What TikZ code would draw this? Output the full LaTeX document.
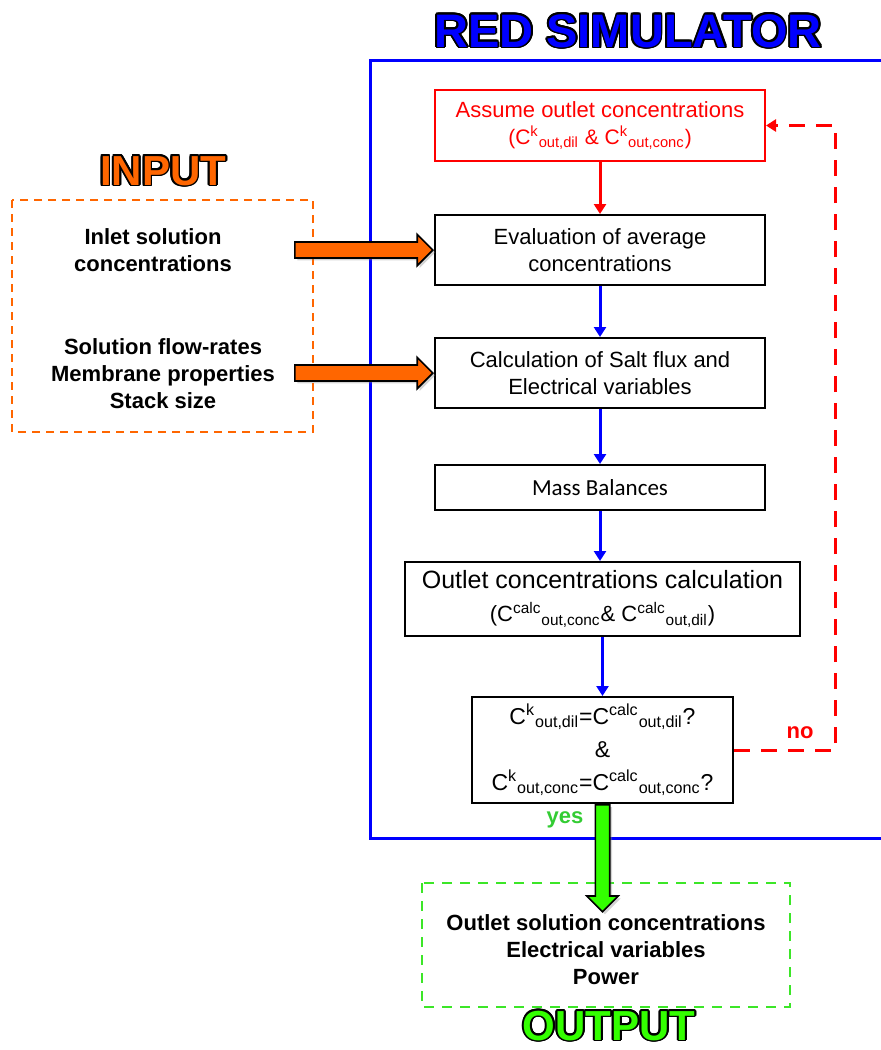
\documentclass[tikz,border=0pt]{standalone}
\usepackage{fontspec}
\setmainfont{Liberation Sans}
\newfontfamily\calibri{Carlito}
\usepackage{contour}
\contourlength{0.9pt}
\usetikzlibrary{arrows.meta,shapes.arrows,shadows}
\tikzset{>={Triangle[width=6pt,length=5pt]}}
\definecolor{inorange}{RGB}{255,102,0}
\definecolor{outgreen}{RGB}{51,255,0}
\definecolor{yesgreen}{RGB}{51,204,51}
\definecolor{framegreen}{RGB}{60,230,40}
\newcommand\sizeA{\fontsize{11}{13.5}\selectfont}
\newcommand\sizeB{\fontsize{12.5}{16.5}\selectfont}
\tikzset{
  stepbox/.style={draw, line width=1pt, fill=white, align=center, inner sep=0pt, font=\sizeA},
  flow/.style={->, blue, line width=1.5pt},
  fatarrow/.style={single arrow, draw=black, line width=0.8pt,
    single arrow tip angle=90,
    drop shadow={opacity=.35, shadow xshift=1.2pt, shadow yshift=-1.2pt}},
  headline/.style={anchor=base, font=\bfseries\fontsize{21}{21}\selectfont},
  sidetext/.style={align=center, font=\bfseries\sizeA},
}
\newcommand\Ck[1]{C\textsuperscript{k}\textsubscript{#1}}
\newcommand\Cc[1]{C\textsuperscript{calc}\textsubscript{#1}}

\begin{document}
\begin{tikzpicture}[x=0.5pt, y=-0.5pt]
\useasboundingbox (0,0) rectangle (881,1050);

% frames
\draw[blue, line width=1.5pt] (370,60) rectangle (900,838);
\draw[inorange, line width=1pt, dash pattern=on 4pt off 3pt] (12,200) rectangle (313,432);
\draw[framegreen, line width=1.2pt, dash pattern=on 5pt off 4pt] (422,883) rectangle (790,1007);

% titles
\node[headline, font=\bfseries\fontsize{23.5}{23.5}\selectfont] (simtitle) at (628,47)
  {\contour{black}{\textcolor{blue}{RED SIMULATOR}}};
\node[headline] (intitle) at (163,185) {\contour{black}{\textcolor{inorange}{INPUT}}};
\node[headline] (outtitle) at (609,1040) {\contour{black}{\textcolor{outgreen}{OUTPUT}}};

% simulator steps
\node[stepbox, draw=red, text=red, minimum width=165pt, minimum height=35.5pt] (assume) at (600,125.5)
  {Assume outlet concentrations\\{\fontsize{10.5}{13.5}\selectfont(\Ck{out,dil} \& \Ck{out,conc})}};
\node[stepbox, minimum width=165pt, minimum height=35pt] (evalbox) at (600,250)
  {Evaluation of average\\concentrations};
\node[stepbox, minimum width=165pt, minimum height=35pt] (calcbox) at (600,373)
  {Calculation of Salt flux and\\Electrical variables};
\node[stepbox, minimum width=165pt, minimum height=22.5pt, font=\calibri\fontsize{11.5}{13.5}\selectfont] (massbox) at (600,487.5)
  {Mass Balances};
\node[stepbox, minimum width=197.5pt, minimum height=37pt, font=\sizeB] (outbox) at (602.5,599)
  {Outlet concentrations calculation\\{\sizeA(\Cc{out,conc}\& \Cc{out,dil})}};
\node[stepbox, minimum width=130.5pt, minimum height=53pt, font=\fontsize{11.5}{16.5}\selectfont] (decide) at (602.5,750)
  {\Ck{out,dil}=\Cc{out,dil}?\\\&\\\Ck{out,conc}=\Cc{out,conc}?};

\draw[->, red, line width=1.5pt] (assume) -- (evalbox);
\draw[flow] (evalbox) -- (calcbox);
\draw[flow] (calcbox) -- (massbox);
\draw[flow] (massbox.south) -- (massbox.south |- outbox.north);
\draw[flow] (outbox.south -| decide.north) -- (decide.north);

% loop back
\coordinate (loopx) at (835,0);
\draw[->, red, line width=1.5pt, dash pattern=on 8pt off 5.5pt]
  (decide.east) -- (decide.east -| loopx) -- (assume.east -| loopx) -- (assume.east);
\node[red, font=\bfseries\sizeA] (nolabel) at (800,733) {no};

% input side
\node[sidetext] (inlet) at (153,250) {Inlet solution\\concentrations};
\node[sidetext] (params) at (163,374) {Solution flow-rates\\Membrane properties\\Stack size};
\node[fatarrow, fill=inorange, anchor=tip, minimum height=69pt, inner xsep=0pt, inner ysep=3.6pt,
  single arrow head extend=3.8pt] (feedA) at (evalbox.west) {};
\node[fatarrow, fill=inorange, anchor=tip, minimum height=69pt, inner xsep=0pt, inner ysep=3.6pt,
  single arrow head extend=3.8pt] (feedB) at (calcbox.west) {};

% output side
\node[fatarrow, fill=outgreen, shape border rotate=270, anchor=tail, minimum height=53.5pt,
  inner sep=3.2pt, single arrow head extend=4.3pt] (result) at (decide.south) {};
\node[yesgreen, font=\bfseries\sizeA] (yeslabel) at (565,820) {yes};
\node[sidetext] (outputs) at (606,950)
  {Outlet solution concentrations\\Electrical variables\\Power};

\end{tikzpicture}
\end{document}
